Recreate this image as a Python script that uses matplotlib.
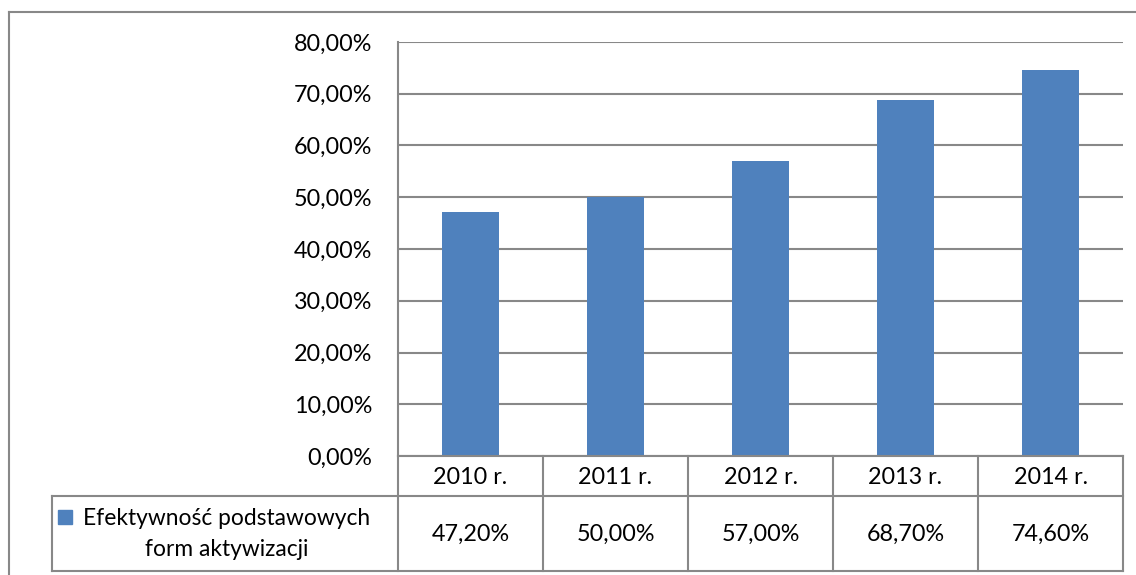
import matplotlib
matplotlib.use("Agg")
import matplotlib.pyplot as plt
from matplotlib.lines import Line2D
from matplotlib.patches import Rectangle
from matplotlib.ticker import MultipleLocator, FuncFormatter

categories = ["2010 r.", "2011 r.", "2012 r.", "2013 r.", "2014 r."]
values = [47.2, 50.0, 57.0, 68.7, 74.6]
series_name = "Efektywność podstawowych\nform aktywizacji"

BAR = "#4F81BD"
GRID = "#888888"
FS = 16.8
plt.rcParams['font.family'] = ['Lato', 'DejaVu Sans']

W, H = 1136, 575
fig = plt.figure(figsize=(W / 100, H / 100), dpi=100)

def fx(px):
    return px / W

def fy(py):
    return 1 - py / H

ax_l, ax_r, ax_t, ax_b = 398, 1123, 42, 456
ax = fig.add_axes([fx(ax_l), fy(ax_b), fx(ax_r - ax_l), fy(ax_t) - fy(ax_b)])

x = list(range(len(categories)))
ax.bar(x, values, width=0.39, color=BAR, zorder=3)
ax.set_xlim(-0.5, len(categories) - 0.5)
ax.set_ylim(0, 80)
ax.yaxis.set_major_locator(MultipleLocator(10))
ax.yaxis.set_major_formatter(FuncFormatter(lambda v, p: f"{v:.2f}%".replace(".", ",")))
ax.grid(axis="y", color=GRID, linewidth=1.5, zorder=0)
ax.set_xticks([])
ax.tick_params(axis="y", length=0, pad=26 * 0.72, labelsize=FS, labelcolor="black")
for s in ["top", "right", "bottom"]:
    ax.spines[s].set_visible(False)
ax.spines["left"].set_color(GRID)
ax.spines["left"].set_linewidth(1.5)

# table
tl = dict(color=GRID, linewidth=1.5, transform=fig.transFigure)
row1_t, row1_b, row2_b = 456, 496, 571
tab_left = 52
col_w = (ax_r - ax_l) / len(categories)

def hline(x0, x1, y):
    fig.add_artist(Line2D([fx(x0), fx(x1)], [fy(y), fy(y)], **tl))

def vline(xp, y0, y1):
    fig.add_artist(Line2D([fx(xp), fx(xp)], [fy(y0), fy(y1)], **tl))

hline(ax_l, ax_r, row1_t)
hline(tab_left, ax_r, row1_b)
hline(tab_left, ax_r, row2_b)
vline(tab_left, row1_b, row2_b)
for i in range(len(categories) + 1):
    vline(ax_l + i * col_w, row1_t, row2_b)

for i, (c, v) in enumerate(zip(categories, values)):
    cx = ax_l + (i + 0.5) * col_w
    fig.text(fx(cx), fy(478), c, ha="center", va="center", fontsize=FS)
    fig.text(fx(cx), fy(534), f"{v:.2f}%".replace(".", ","), ha="center", va="center", fontsize=FS)

# legend key and label
fig.add_artist(Rectangle((fx(58), fy(524)), fx(14), fy(510) - fy(524), color=BAR,
                         transform=fig.transFigure))
fig.text(fx(227), fy(534), series_name, ha="center", va="center", fontsize=FS - 0.4,
         linespacing=1.58, multialignment="center")

# outer chart border
ol = dict(color=GRID, linewidth=1.5, transform=fig.transFigure)
fig.add_artist(Line2D([fx(9), 1.0], [fy(12), fy(12)], **ol))
fig.add_artist(Line2D([fx(9), fx(9)], [fy(12), 0.0], **ol))

fig.savefig("out.png", dpi=100, facecolor="white")
